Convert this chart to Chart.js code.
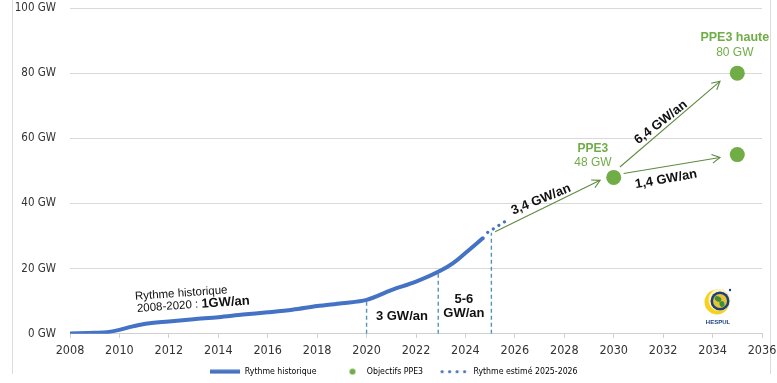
<!DOCTYPE html>
<html><head><meta charset="utf-8">
<script src="https://cdn.jsdelivr.net/npm/chart.js@4.4.0/dist/chart.umd.min.js"></script>
<style>
html,body{margin:0;padding:0;background:#fff;overflow:hidden;}
#wrap{position:relative;width:777px;height:383px;}
#frame{position:absolute;left:12px;top:0;width:757px;height:374px;border-left:1px solid #dcdcdc;border-right:1px solid #dcdcdc;}
canvas{position:absolute;left:0;top:0;}
</style></head><body>
<div id="wrap"><div id="frame"></div><canvas id="c" width="777" height="383"></canvas></div>
<script>
// ---- data ----
const histYears = [2008, 2009, 2009.5, 2010, 2010.5, 2011, 2012, 2013, 2014, 2015, 2016, 2017, 2018, 2019, 2020, 2021, 2022, 2023, 2023.5, 2024, 2024.7];
const histGW    = [0.1, 0.3, 0.5, 1.2, 2.2, 3.0, 3.8, 4.5, 5.1, 5.9, 6.6, 7.4, 8.5, 9.4, 10.4, 13.4, 16.0, 19.4, 21.7, 24.8, 29.3];
const estYears = [2024.9, 2025.8];
const estGW    = [31.1, 35.4];
const ppeYears = [2030, 2035, 2035];
const ppeGW    = [48, 55, 80];
const arrowFromYears = [2025.2, 2030.25, 2030.4];
const arrowFromGW    = [31.3, 51.2, 49.2];
const arrowToYears   = [2029.45, 2034.3, 2034.3];
const arrowToGW      = [47.1, 77.5, 54.1];
const markerYears = [2020, 2022.9, 2025.05];
const markerGW    = [10.3, 19.1, 31.0];
const xTickStep = 2;
const yTickStep = 20;
const legendLabels = ['Rythme historique', 'Objectifs PPE3', 'Rythme estimé 2025-2026'];
const annotations = [
  {parts:[['Rythme historique','400 11.5px']], x:2010.63, y:11.4, rot:-4, align:'left', color:'#111'},
  {parts:[['2008-2020 : ','400 11.5px'],['1GW/an','700 13px']], x:2010.71, y:7.7, rot:-4, align:'left', color:'#111'},
  {parts:[['3 GW/an','700 13px']], x:2021.43, y:5.2, rot:0, color:'#111'},
  {parts:[['5-6','700 13px']], x:2023.94, y:10.5, rot:0, color:'#111'},
  {parts:[['GW/an','700 13px']], x:2023.94, y:6.2, rot:0, color:'#111'},
  {parts:[['3,4 GW/an','700 13px']], x:2027.06, y:41.2, rot:-22, color:'#111'},
  {parts:[['6,4 GW/an','700 13px']], x:2031.91, y:64.9, rot:-38, color:'#111'},
  {parts:[['1,4 GW/an','700 13px']], x:2032.12, y:47.4, rot:-10, color:'#111'},
  {parts:[['PPE3','700 12px']], x:2029.16, y:56.9, rot:0, color:'#70ad47'},
  {parts:[['48 GW','400 12px']], x:2029.16, y:52.6, rot:0, color:'#70ad47'},
  {parts:[['PPE3 haute','700 12.5px']], x:2034.9, y:90.8, rot:0, color:'#70ad47'},
  {parts:[['80 GW','400 12px']], x:2034.9, y:86.4, rot:0, color:'#70ad47'}
];

// ---- styles ----
const BLUE = '#4472c4', GREEN = '#70ad47', ARROW = '#5e8b3f', MARK = '#4f95b5';
const TICKFONT = "'Liberation Sans Narrow', 'DejaVu Sans Condensed', 'Liberation Sans', sans-serif";
const ANNFONT = "'Liberation Sans', Arial, sans-serif";

function pts(xs, ys){ return xs.map((x,i)=>({x:x, y:ys[i]})); }

const datasets = [];
markerYears.forEach((yr,i)=>{
  datasets.push({type:'line', data:[{x:yr,y:0},{x:yr,y:markerGW[i]}], borderColor:MARK, borderWidth:1.4,
    borderDash:[4,3], pointRadius:0, order:5});
});
datasets.push({type:'line', label:legendLabels[0], data:pts(histYears, histGW), borderColor:BLUE, borderWidth:4,
  pointRadius:0, cubicInterpolationMode:'monotone', borderCapStyle:'round', order:1});
datasets.push({type:'line', label:legendLabels[2], data:pts(estYears, estGW), borderColor:BLUE, borderWidth:3.2,
  borderDash:[0.1,6.5], borderCapStyle:'round', pointRadius:0, order:1});
arrowFromYears.forEach((yr,i)=>{
  datasets.push({type:'line', data:[{x:yr,y:arrowFromGW[i]},{x:arrowToYears[i],y:arrowToGW[i]}], borderColor:ARROW,
    borderWidth:1.1, pointRadius:0, isArrow:true, order:3});
});
datasets.push({type:'line', label:legendLabels[1], data:pts(ppeYears, ppeGW), showLine:false, pointRadius:7.5,
  pointHoverRadius:7.5, pointBackgroundColor:GREEN, pointBorderWidth:0, backgroundColor:GREEN, order:0});

function mk(w,h,draw){ const c=document.createElement('canvas'); c.width=w; c.height=h; draw(c.getContext('2d')); return c; }
const legLine = mk(30,5,g=>{g.fillStyle=BLUE; g.fillRect(0,0.5,30,4);});
const legDot = mk(30,7,g=>{g.fillStyle=GREEN; g.beginPath(); g.arc(20,3.5,3,0,Math.PI*2); g.fill();});
const legDots = mk(30,5,g=>{g.fillStyle=BLUE; for(let i=0;i<4;i++){g.beginPath(); g.arc(3+i*7.5,2.5,1.6,0,Math.PI*2); g.fill();}});

const extras = {
  id:'extras',
  afterLayout(chart){
    if(chart.legend){ chart.legend.left += 13; chart.legend.right += 13; chart.legend.top -= 8; chart.legend.bottom -= 8; }
  },
  afterDatasetsDraw(chart){
    const ctx = chart.ctx, xs = chart.scales.x, ys = chart.scales.y;
    chart.data.datasets.forEach((ds,i)=>{
      if(!ds.isArrow) return;
      const m = chart.getDatasetMeta(i).data;
      const a = m[0], b = m[1];
      const ang = Math.atan2(b.y-a.y, b.x-a.x), L = 9, sp = 0.5;
      ctx.save(); ctx.strokeStyle = ARROW; ctx.lineWidth = 1.1;
      ctx.beginPath();
      ctx.moveTo(b.x - L*Math.cos(ang-sp), b.y - L*Math.sin(ang-sp));
      ctx.lineTo(b.x, b.y);
      ctx.lineTo(b.x - L*Math.cos(ang+sp), b.y - L*Math.sin(ang+sp));
      ctx.stroke(); ctx.restore();
    });
    annotations.forEach(an=>{
      const px = xs.getPixelForValue(an.x), py = ys.getPixelForValue(an.y);
      ctx.save(); ctx.translate(px,py); ctx.rotate((an.rot||0)*Math.PI/180);
      ctx.fillStyle = an.color; ctx.textBaseline = 'middle'; ctx.textAlign = 'left';
      let total = 0;
      an.parts.forEach(p=>{ ctx.font = p[1]+' '+ANNFONT; total += ctx.measureText(p[0]).width; });
      let cx = an.align==='left' ? 0 : -total/2;
      an.parts.forEach(p=>{ ctx.font = p[1]+' '+ANNFONT; ctx.fillText(p[0], cx, 0); cx += ctx.measureText(p[0]).width; });
      ctx.restore();
    });
    // HESPUL logo
    ctx.save();
    const lx = 718, ly = 301;
    ctx.fillStyle = '#f6d21e';
    ctx.beginPath(); ctx.arc(lx-1, ly+1, 12.5, 0, Math.PI*2); ctx.fill();
    ctx.fillStyle = '#fdf3c0';
    ctx.beginPath(); ctx.arc(lx+1.5, ly-1, 11, 0, Math.PI*2); ctx.fill();
    ctx.fillStyle = '#1d3f7a';
    ctx.beginPath(); ctx.arc(lx+2, ly, 9.5, 0, Math.PI*2); ctx.fill();
    ctx.fillStyle = '#e7c33a';
    ctx.beginPath(); ctx.arc(lx+2, ly, 7, 0, Math.PI*2); ctx.fill();
    ctx.fillStyle = '#3f8f3a';
    ctx.beginPath(); ctx.ellipse(lx, ly-2, 3.5, 2.5, 0.5, 0, Math.PI*2); ctx.fill();
    ctx.beginPath(); ctx.ellipse(lx+4, ly+3, 2.5, 3, -0.3, 0, Math.PI*2); ctx.fill();
    ctx.fillStyle = '#1d3f7a';
    ctx.beginPath(); ctx.arc(lx+12, ly-11, 1.2, 0, Math.PI*2); ctx.fill();
    ctx.font = "700 6px 'Liberation Sans', sans-serif"; ctx.textAlign='center'; ctx.textBaseline='middle';
    ctx.fillText('HESPUL', lx, ly+21);
    ctx.restore();
  }
};

new Chart(document.getElementById('c'), {
  type:'line',
  data:{datasets:datasets},
  options:{
    responsive:false, animation:false, devicePixelRatio:1,
    layout:{padding:{left:0, right:15, top:8, bottom:-11}},
    plugins:{
      tooltip:{enabled:false},
      legend:{
        position:'bottom',
        labels:{
          usePointStyle:true, pointStyleWidth:30, boxHeight:9, padding:16,
          color:'#595959', font:{family:TICKFONT, size:8.7},
          generateLabels(){
            return [
              {text:legendLabels[0], pointStyle:legLine, fillStyle:BLUE, strokeStyle:BLUE, lineWidth:0, datasetIndex:3},
              {text:legendLabels[1], pointStyle:legDot, fillStyle:GREEN, strokeStyle:GREEN, lineWidth:0, datasetIndex:8},
              {text:legendLabels[2], pointStyle:legDots, fillStyle:BLUE, strokeStyle:BLUE, lineWidth:0, datasetIndex:4}
            ];
          }
        }
      }
    },
    scales:{
      x:{type:'linear', min:2008, max:2036,
        ticks:{stepSize:xTickStep, color:'#333', font:{family:TICKFONT, size:12.5}, padding:5, callback:v=>String(v), maxRotation:0},
        grid:{drawOnChartArea:false, tickLength:4, color:'#d0d0d0'},
        border:{color:'#d0d0d0'},
        afterFit(s){ s.height = 25.5; s.paddingLeft = 0; s.paddingRight = 0; }
      },
      y:{min:0, max:100,
        ticks:{stepSize:yTickStep, color:'#333', font:{family:TICKFONT, size:11.5}, padding:14, callback:v=>v+' GW'},
        grid:{color:'#d9d9d9', drawTicks:false},
        border:{display:false},
        afterFit(s){ s.width = 70; s.paddingTop = 0; s.paddingBottom = 0; }
      }
    }
  },
  plugins:[extras]
});
</script>
</body></html>
